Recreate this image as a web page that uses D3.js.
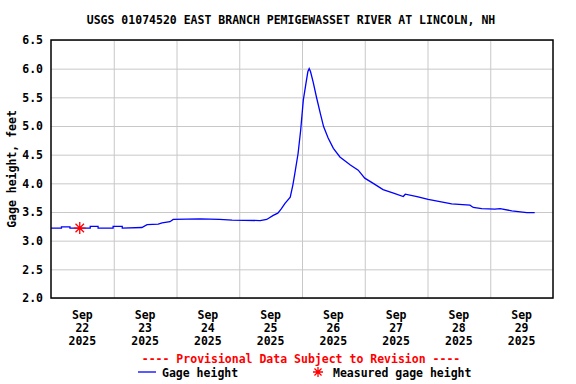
<!DOCTYPE html>
<html>
<head>
<meta charset="utf-8">
<script src="https://cdn.jsdelivr.net/npm/d3@7"></script>
<style>
  body { margin: 0; background: #fff; }
  text { font-family: "DejaVu Sans Mono", monospace; font-weight: bold; }
</style>
</head>
<body>
<div id="chart"></div>
<script>
// DATA
const title = "USGS 01074520 EAST BRANCH PEMIGEWASSET RIVER AT LINCOLN, NH";
const yLabel = "Gage height, feet";
const yTicks = [2.0, 2.5, 3.0, 3.5, 4.0, 4.5, 5.0, 5.5, 6.0, 6.5];
const dayTicks = ["2025-09-22", "2025-09-23", "2025-09-24", "2025-09-25",
                  "2025-09-26", "2025-09-27", "2025-09-28", "2025-09-29"];
const gageTimes = [
  "2025-09-22 00:00", "2025-09-22 04:00", "2025-09-22 04:00", "2025-09-22 07:15", "2025-09-22 07:15",
  "2025-09-22 15:00", "2025-09-22 15:00", "2025-09-22 18:00", "2025-09-22 18:00",
  "2025-09-22 23:45", "2025-09-22 23:45", "2025-09-23 03:15", "2025-09-23 03:15",
  "2025-09-23 10:45", "2025-09-23 12:45", "2025-09-23 17:00", "2025-09-23 18:30",
  "2025-09-23 21:30", "2025-09-23 22:45", "2025-09-24 09:00", "2025-09-24 16:30",
  "2025-09-24 21:15", "2025-09-25 08:00", "2025-09-25 10:30", "2025-09-25 13:00",
  "2025-09-25 14:45", "2025-09-25 16:00", "2025-09-25 17:30", "2025-09-25 19:30",
  "2025-09-25 20:30", "2025-09-25 21:15", "2025-09-25 22:30", "2025-09-25 23:30",
  "2025-09-26 00:30", "2025-09-26 01:30", "2025-09-26 02:15", "2025-09-26 02:45",
  "2025-09-26 03:15", "2025-09-26 04:15", "2025-09-26 05:30", "2025-09-26 07:00",
  "2025-09-26 08:15", "2025-09-26 10:00", "2025-09-26 12:00", "2025-09-26 14:30",
  "2025-09-26 18:30", "2025-09-26 21:30", "2025-09-27 00:00", "2025-09-27 03:15",
  "2025-09-27 07:00", "2025-09-27 11:00", "2025-09-27 14:45", "2025-09-27 15:30",
  "2025-09-27 20:00", "2025-09-28 00:15", "2025-09-28 04:45", "2025-09-28 09:15",
  "2025-09-28 16:15", "2025-09-28 17:30", "2025-09-28 20:45", "2025-09-29 01:45",
  "2025-09-29 03:45", "2025-09-29 08:15", "2025-09-29 14:00", "2025-09-29 17:00"
];
const gageValues = [
  3.22, 3.22, 3.24, 3.24, 3.22,
  3.22, 3.25, 3.25, 3.22,
  3.22, 3.25, 3.25, 3.22,
  3.23, 3.28, 3.29, 3.31,
  3.33, 3.37, 3.38, 3.37,
  3.36, 3.35, 3.37, 3.44,
  3.48, 3.55, 3.65, 3.76,
  3.97, 4.17, 4.52, 4.93,
  5.45, 5.74, 5.95, 6.00,
  5.95, 5.77, 5.51, 5.22,
  4.99, 4.79, 4.61, 4.46,
  4.32, 4.23, 4.09, 4.00,
  3.89, 3.83, 3.77, 3.81,
  3.77, 3.72, 3.68, 3.64,
  3.62, 3.58, 3.56, 3.55,
  3.56, 3.52, 3.49, 3.49
];
const measuredTimes = ["2025-09-22 11:00"];
const measuredValues = [3.22];

// CHART
const parseTime = d3.timeParse("%Y-%m-%d %H:%M");
const parseDay = d3.timeParse("%Y-%m-%d");
const fmtMon = d3.timeFormat("%b");
const fmtDay = d3.timeFormat("%d");
const fmtYear = d3.timeFormat("%Y");

const width = 576, height = 384;
const margin = { top: 40, left: 51, right: 23, bottom: 86 };
const plotW = width - margin.left - margin.right;
const plotH = height - margin.top - margin.bottom;

const gage = gageTimes.map((t, i) => ({ t: parseTime(t), v: gageValues[i] }));
const measured = measuredTimes.map((t, i) => ({ t: parseTime(t), v: measuredValues[i] }));
const days = dayTicks.map(parseDay);

const x = d3.scaleTime()
  .domain([days[0], d3.timeDay.offset(days[days.length - 1], 1)])
  .range([0, plotW]);
const y = d3.scaleLinear().domain([2.0, 6.5]).range([plotH, 0]);

const svg = d3.select("#chart").append("svg")
  .attr("width", width)
  .attr("height", height);

svg.append("text")
  .attr("x", 291).attr("y", 24)
  .attr("text-anchor", "middle")
  .style("font-size", "11.5px")
  .text(title);

const g = svg.append("g").attr("transform", `translate(${margin.left},${margin.top})`);

// grid lines
g.append("g")
  .attr("class", "grid")
  .call(d3.axisLeft(y).tickValues(yTicks).tickSize(-plotW).tickFormat(""))
  .call(s => s.select(".domain").remove())
  .call(s => s.selectAll("line").attr("stroke", "#c8c8c8"));

g.append("g")
  .attr("class", "grid")
  .attr("transform", `translate(0,${plotH})`)
  .call(d3.axisBottom(x).tickValues(days.slice(1)).tickSize(-plotH).tickFormat(""))
  .call(s => s.select(".domain").remove())
  .call(s => s.selectAll("line").attr("stroke", "#c8c8c8"));

// y tick labels
g.append("g")
  .call(d3.axisLeft(y).tickValues(yTicks).tickSize(0).tickPadding(8).tickFormat(d3.format(".1f")))
  .call(s => s.select(".domain").remove())
  .call(s => s.selectAll("text")
    .style("font-size", "11.5px")
    .style("font-family", "'DejaVu Sans Mono', monospace")
    .style("font-weight", "bold")
    .attr("fill", "#000"));

// x tick labels at noon, three lines
const xLab = g.append("g").attr("transform", `translate(0,${plotH})`);
days.forEach(d => {
  const noon = d3.timeHour.offset(d, 12);
  const t = xLab.append("text")
    .attr("x", x(noon))
    .attr("text-anchor", "middle")
    .style("font-size", "11.5px");
  [fmtMon(d), fmtDay(d), fmtYear(d)].forEach((s, i) => {
    t.append("tspan").attr("x", x(noon)).attr("y", 21 + i * 13).text(s);
  });
});

// y axis label
svg.append("text")
  .attr("transform", `translate(16,${margin.top + plotH / 2}) rotate(-90)`)
  .attr("text-anchor", "middle")
  .style("font-size", "11.5px")
  .text(yLabel);

// line
const line = d3.line().x(d => x(d.t)).y(d => y(d.v));
g.append("path")
  .datum(gage)
  .attr("d", line)
  .attr("fill", "none")
  .attr("stroke", "#0000ff")
  .attr("stroke-width", 1.3);

// measured asterisk
function asterisk(sel, r) {
  const a = r * Math.SQRT1_2;
  sel.append("path")
    .attr("d", `M${-r},0L${r},0M0,${-r}L0,${r}M${-a},${-a}L${a},${a}M${-a},${a}L${a},${-a}`)
    .attr("stroke", "#ff0000")
    .attr("stroke-width", 1.3)
    .attr("fill", "none");
}
measured.forEach(d => {
  g.append("g").attr("transform", `translate(${x(d.t)},${y(d.v)})`).call(asterisk, 6);
});

// frame
g.append("rect")
  .attr("width", plotW).attr("height", plotH)
  .attr("fill", "none").attr("stroke", "#000").attr("stroke-width", 1.5);

// footer
svg.append("text")
  .attr("x", 301).attr("y", 363)
  .attr("text-anchor", "middle")
  .attr("fill", "#ff0000")
  .style("font-size", "11.5px")
  .text("---- Provisional Data Subject to Revision ----");

const leg = svg.append("g");
leg.append("line")
  .attr("x1", 138).attr("x2", 156).attr("y1", 372).attr("y2", 372)
  .attr("stroke", "#0000ff").attr("stroke-width", 1.3);
leg.append("text").attr("x", 162).attr("y", 377).style("font-size", "11.5px").text("Gage height");
leg.append("g").attr("transform", "translate(318,372)").call(asterisk, 5);
leg.append("text").attr("x", 333).attr("y", 377).style("font-size", "11.5px").text("Measured gage height");
</script>
</body>
</html>
